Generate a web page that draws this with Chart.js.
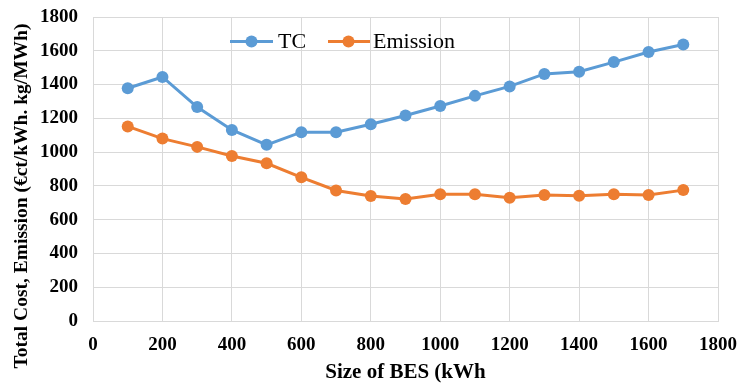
<!DOCTYPE html>
<html>
<head>
<meta charset="utf-8">
<script src="https://cdn.jsdelivr.net/npm/chart.js@4"></script>
<style>
  html, body { margin: 0; padding: 0; background: #fff; }
  #wrap { width: 739px; height: 385px; position: relative; }
</style>
</head>
<body>
<div id="wrap"><canvas id="c"></canvas></div>
<script>
// Battery energy storage size (kWh)
const sizes = [100, 200, 300, 400, 500, 600, 700, 800, 900, 1000, 1100, 1200, 1300, 1400, 1500, 1600, 1700];
// Total cost (€ct/kWh)
const totalCost = [1378, 1445, 1267, 1131, 1043, 1118, 1118, 1165, 1217, 1273, 1333, 1389, 1463, 1476, 1533, 1593, 1637];
// Emission (kg/MWh)
const emission = [1152, 1080, 1031, 977, 934, 851, 773, 740, 722, 751, 751, 730, 746, 741, 751, 746, 775];
const seriesNames = ['TC', 'Emission'];
const axisTicks = [0, 200, 400, 600, 800, 1000, 1200, 1400, 1600, 1800];
const yTitle = 'Total Cost, Emission (€ct/kWh. kg/MWh)';
const xTitle = 'Size of BES (kWh';

const blue = '#5B9BD5';
const orange = '#ED7D31';
const serif = '"Liberation Serif", "Times New Roman", serif';

function toPoints(xs, ys) { return xs.map((x, i) => ({ x: x, y: ys[i] })); }

// Legend drawn inside the plot area, near its top
const innerLegend = {
  id: 'innerLegend',
  afterDatasetsDraw(chart) {
    const ctx = chart.ctx;
    const items = [
      { label: seriesNames[0], color: blue, x0: 230, x1: 273, cx: 251.5, tx: 278 },
      { label: seriesNames[1], color: orange, x0: 328, x1: 370, cx: 348.5, tx: 373 }
    ];
    const y = 41.5;
    ctx.save();
    items.forEach(it => {
      ctx.strokeStyle = it.color;
      ctx.lineWidth = 3;
      ctx.beginPath(); ctx.moveTo(it.x0, y); ctx.lineTo(it.x1, y); ctx.stroke();
      ctx.fillStyle = it.color;
      ctx.beginPath(); ctx.arc(it.cx, y, 6, 0, Math.PI * 2); ctx.fill();
      ctx.fillStyle = '#000';
      ctx.font = '22px ' + serif;
      ctx.textBaseline = 'middle';
      ctx.textAlign = 'left';
      ctx.fillText(it.label, it.tx, y + 1);
    });
    ctx.restore();
  }
};

// Vertical axis title, centred on the full canvas height rather than the plot
const sideTitle = {
  id: 'sideTitle',
  afterDraw(chart) {
    const ctx = chart.ctx;
    ctx.save();
    ctx.translate(22, 196);
    ctx.rotate(-Math.PI / 2);
    ctx.fillStyle = '#000';
    ctx.font = 'bold 19.5px ' + serif;
    ctx.textAlign = 'center';
    ctx.textBaseline = 'middle';
    ctx.fillText(yTitle, 0, 0);
    ctx.restore();
  }
};

// Top and right edges of the plot frame
const frame = {
  id: 'frame',
  afterDraw(chart) {
    const a = chart.chartArea, ctx = chart.ctx;
    ctx.save();
    ctx.strokeStyle = '#d9d9d9'; ctx.lineWidth = 1;
    ctx.beginPath();
    ctx.moveTo(a.left, a.top + 0.5); ctx.lineTo(a.right + 0.5, a.top + 0.5); ctx.lineTo(a.right + 0.5, a.bottom);
    ctx.stroke();
    ctx.restore();
  }
};

new Chart(document.getElementById('c'), {
  type: 'line',
  data: {
    datasets: [
      { label: seriesNames[0], data: toPoints(sizes, totalCost), borderColor: blue, backgroundColor: blue,
        borderWidth: 3, pointRadius: 6, pointBackgroundColor: blue, pointBorderWidth: 0 },
      { label: seriesNames[1], data: toPoints(sizes, emission), borderColor: orange, backgroundColor: orange,
        borderWidth: 3, pointRadius: 6, pointBackgroundColor: orange, pointBorderWidth: 0 }
    ]
  },
  options: {
    responsive: true,
    maintainAspectRatio: false,
    animation: false,
    layout: { padding: { top: 17, right: 21, left: 0, bottom: 0 } },
    plugins: { legend: { display: false }, tooltip: { enabled: false } },
    scales: {
      x: {
        type: 'linear', min: 0, max: 1800,
        afterBuildTicks: s => { s.ticks = axisTicks.map(v => ({ value: v })); },
        grid: { color: '#d9d9d9', lineWidth: 1, drawTicks: false },
        border: { color: '#d9d9d9' },
        ticks: { color: '#000', font: { family: serif, size: 19, weight: 'bold' }, padding: 13, maxRotation: 0,
                 callback: v => String(v) },
        title: { display: true, text: xTitle, color: '#000',
                 font: { family: serif, size: 21, weight: 'bold' }, padding: { top: 0, bottom: 0 } },
        afterFit: s => { s.height = 64; s.paddingLeft = 0; s.paddingRight = 0; }
      },
      y: {
        min: 0, max: 1800,
        afterBuildTicks: s => { s.ticks = axisTicks.map(v => ({ value: v })); },
        grid: { color: '#d9d9d9', lineWidth: 1, drawTicks: false },
        border: { color: '#d9d9d9' },
        ticks: { color: '#000', font: { family: serif, size: 19, weight: 'bold' }, padding: 15,
                 callback: v => String(v) },
        afterFit: s => { s.width = 93; s.paddingTop = 0; s.paddingBottom = 0; }
      }
    }
  },
  plugins: [innerLegend, sideTitle, frame]
});
</script>
</body>
</html>
